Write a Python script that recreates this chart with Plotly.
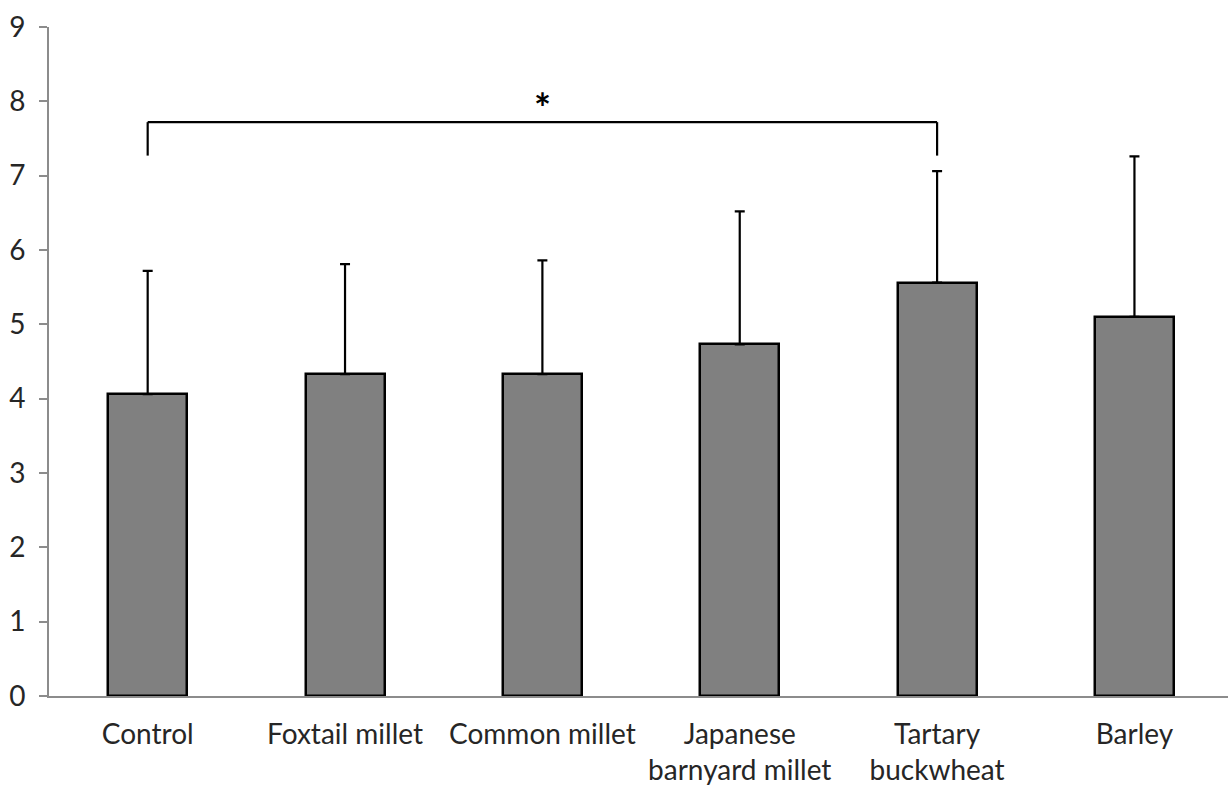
import plotly.graph_objects as go

# Group means and upper standard deviations
categories = ["Control", "Foxtail millet", "Common millet",
              "Japanese<br>barnyard millet", "Tartary<br>buckwheat", "Barley"]
means = [4.06, 4.33, 4.33, 4.73, 5.56, 5.10]
sd_upper = [1.66, 1.48, 1.53, 1.79, 1.50, 2.16]

# Significance bracket between Control (index 0) and Tartary buckwheat (index 4)
bracket_from, bracket_to = 0, 4
bracket_top, bracket_foot = 7.72, 7.27
star_label = "*"

FONT = "Lato"
TEXT = "#262626"
AXIS = "#8c8c8c"

fig = go.Figure()
fig.add_trace(go.Bar(
    x=list(range(len(categories))),
    y=means,
    width=0.40,
    marker=dict(color="#808080", line=dict(color="black", width=2.5)),
    error_y=dict(type="data", symmetric=False, array=sd_upper,
                 arrayminus=[0] * len(means), color="black",
                 thickness=2.2, width=5),
))

# Bracket lines
fig.add_shape(type="line", x0=bracket_from, x1=bracket_from, y0=bracket_foot, y1=bracket_top,
              xref="x", yref="y", line=dict(color="black", width=2.2))
fig.add_shape(type="line", x0=bracket_to, x1=bracket_to, y0=bracket_foot, y1=bracket_top,
              xref="x", yref="y", line=dict(color="black", width=2.2))
fig.add_shape(type="line", x0=bracket_from, x1=bracket_to, y0=bracket_top, y1=bracket_top,
              xref="x", yref="y", line=dict(color="black", width=2.2))
fig.add_annotation(x=(bracket_from + bracket_to) / 2, y=bracket_top, text=f"<b>{star_label}</b>",
                   showarrow=False, yanchor="bottom", yshift=-12,
                   font=dict(family=FONT, size=40, color="black"))

fig.update_layout(
    width=1228, height=792,
    margin=dict(l=49, r=0, t=27, b=96),
    paper_bgcolor="white", plot_bgcolor="white",
    showlegend=False,
    font=dict(family=FONT, size=28, color=TEXT),
    bargap=0,
)
fig.update_xaxes(
    tickmode="array",
    tickvals=list(range(len(categories))),
    ticktext=categories,
    range=[-0.5, 5.474],
    showline=True, linecolor=AXIS, linewidth=2,
    ticks="", showgrid=False, zeroline=False,
    ticklabelstandoff=12,
    tickfont=dict(size=28),
)
# Boundary tick marks between categories
for b in [-0.5, 0.5, 1.5, 2.5, 3.5, 4.5]:
    fig.add_shape(type="line", x0=b, x1=b, y0=0, y1=-0.12, xref="x", yref="y",
                  line=dict(color=AXIS, width=2))
fig.update_yaxes(
    range=[0, 9], dtick=1, tick0=0,
    showline=True, linecolor=AXIS, linewidth=2,
    ticks="outside", ticklen=8, tickwidth=2, tickcolor=AXIS,
    showgrid=False, zeroline=False,
    ticklabelstandoff=8,
    tickfont=dict(size=28),
)

fig.write_html("out.html")
